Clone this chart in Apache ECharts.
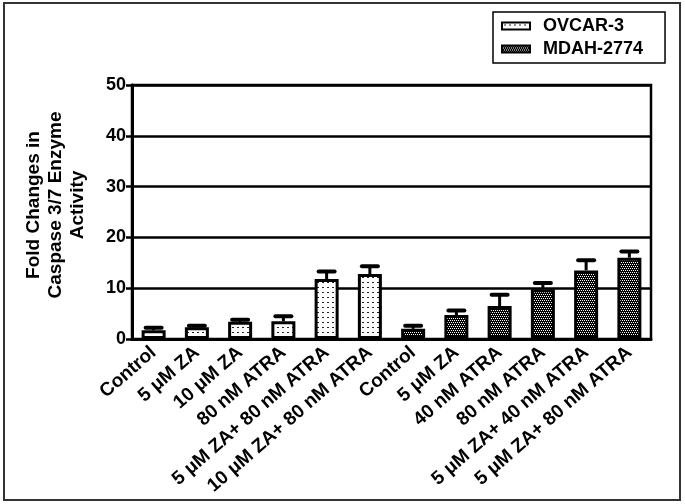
<!DOCTYPE html>
<html>
<head>
<meta charset="utf-8">
<script src="https://cdn.jsdelivr.net/npm/echarts@6/dist/echarts.min.js"></script>
<style>html,body{margin:0;padding:0;background:#fff}#c{width:685px;height:504px}</style>
</head>
<body>
<div id="c"></div>
<script>
const categories = ['Control','5 μM ZA','10 μM ZA','80 nM ATRA','5 μM ZA+ 80 nM ATRA','10 μM ZA+ 80 nM ATRA','Control','5 μM ZA','40 nM ATRA','80 nM ATRA','5 μM ZA+ 40 nM ATRA','5 μM ZA+ 80 nM ATRA'];
const ovcarMean = [1.7, 2.3, 3.4, 3.5, 11.8, 12.8];
const ovcarErr = [0.5, 0.3, 0.4, 1.0, 1.5, 1.5];
const mdahMean = [2.0, 4.7, 6.5, 9.8, 13.5, 16.0];
const mdahErr = [0.6, 0.9, 2.2, 1.2, 2.0, 1.2];
const yTicks = [0, 10, 20, 30, 40, 50];

function makePattern(w, h, bg, fg, pts) {
  const c = document.createElement('canvas');
  c.width = w; c.height = h;
  const ctx = c.getContext('2d');
  ctx.fillStyle = bg; ctx.fillRect(0, 0, w, h);
  ctx.fillStyle = fg;
  pts.forEach(p => ctx.fillRect(p[0], p[1], p[2] || 1, p[3] || 1));
  return { image: c, repeat: 'repeat' };
}
const dotPat = makePattern(5, 5, '#ffffff', '#222222', [[2, 2, 2, 1]]);
const checkPat = makePattern(4, 4, '#000000', '#ffffff', [[0, 0], [2, 0], [1, 2], [3, 2]]);

const ovcarData = categories.map((_, i) => i < ovcarMean.length ? ovcarMean[i] : '-');
const mdahData = categories.map((_, i) => i >= ovcarMean.length ? mdahMean[i - ovcarMean.length] : '-');
const errData = [];
ovcarMean.forEach((m, i) => errData.push([i, m, ovcarErr[i]]));
mdahMean.forEach((m, i) => errData.push([i + ovcarMean.length, m, mdahErr[i]]));

const FONT = '"Liberation Sans", Arial, sans-serif';
const chart = echarts.init(document.getElementById('c'), null, { renderer: 'canvas' });
chart.setOption({
  animation: false,
  backgroundColor: '#fff',
  textStyle: { fontFamily: FONT },
  graphic: [{
    type: 'rect', shape: { x: 4, y: 3, width: 676, height: 497 },
    style: { fill: 'none', stroke: '#333', lineWidth: 2 }, z: 0
  }],
  legend: {
    orient: 'vertical', left: 493, top: 12,
    borderColor: '#000', borderWidth: 1.5, padding: [5, 22, 5, 8],
    itemWidth: 28, itemHeight: 7, itemGap: 5,
    textStyle: { fontFamily: FONT, fontWeight: 'bold', fontSize: 18, color: '#000', padding: [0, 0, 0, 8] },
    data: [
      { name: 'OVCAR-3', icon: 'rect', itemStyle: { color: dotPat, borderColor: '#000', borderWidth: 2 } },
      { name: 'MDAH-2774', icon: 'rect', itemStyle: { color: checkPat, borderColor: '#000', borderWidth: 2 } }
    ]
  },
  grid: { left: 132, right: 34, top: 85, bottom: 165, containLabel: false, outerBoundsMode: 'none',
          show: true, borderColor: '#000', borderWidth: 2.5, backgroundColor: 'transparent' },
  xAxis: {
    type: 'category', data: categories,
    axisLine: { lineStyle: { color: '#000', width: 3 } },
    axisTick: { alignWithLabel: true, length: 8, lineStyle: { color: '#000', width: 3 } },
    axisLabel: { interval: 0, rotate: 41, color: '#000', fontWeight: 'bold', fontSize: 19, fontFamily: FONT, margin: 11 }
  },
  yAxis: {
    type: 'value', min: 0, max: 50, interval: 10,
    name: 'Fold Changes in\nCaspase 3/7 Enzyme\nActivity',
    nameLocation: 'middle', nameRotate: 90, nameGap: 43,
    nameTextStyle: { fontFamily: FONT, fontWeight: 'bold', fontSize: 19, color: '#000', lineHeight: 22, align: 'center', padding: [0, 0, 0, 14] },
    axisLine: { show: true, lineStyle: { color: '#000', width: 3 } },
    axisTick: { show: true, length: 6, lineStyle: { color: '#000', width: 2.5 } },
    splitLine: { show: true, lineStyle: { color: '#000', width: 2.5 } },
    axisLabel: { color: '#000', fontWeight: 'bold', fontSize: 18, fontFamily: FONT, margin: 6,
                 customValues: yTicks }
  },
  series: [
    { name: 'OVCAR-3', type: 'bar', data: ovcarData, barWidth: 24, barGap: '-100%',
      itemStyle: { color: dotPat, borderColor: '#000', borderWidth: 3 } },
    { name: 'MDAH-2774', type: 'bar', data: mdahData, barWidth: 24, barGap: '-100%',
      itemStyle: { color: checkPat, borderColor: '#000', borderWidth: 3 } },
    { type: 'custom', name: 'err', data: errData, z: 5,
      renderItem: function (params, api) {
        const x = api.value(0), m = api.value(1), e = api.value(2);
        const p0 = api.coord([x, m]);
        const p1 = api.coord([x, m + e]);
        return { type: 'group', children: [
          { type: 'line', shape: { x1: p0[0], y1: p0[1], x2: p1[0], y2: p1[1] }, style: { stroke: '#000', lineWidth: 3 } },
          { type: 'line', shape: { x1: p1[0] - 8, y1: p1[1], x2: p1[0] + 8, y2: p1[1] }, style: { stroke: '#000', lineWidth: 4, lineCap: 'round' } }
        ]};
      }
    }
  ]
});
</script>
</body>
</html>
